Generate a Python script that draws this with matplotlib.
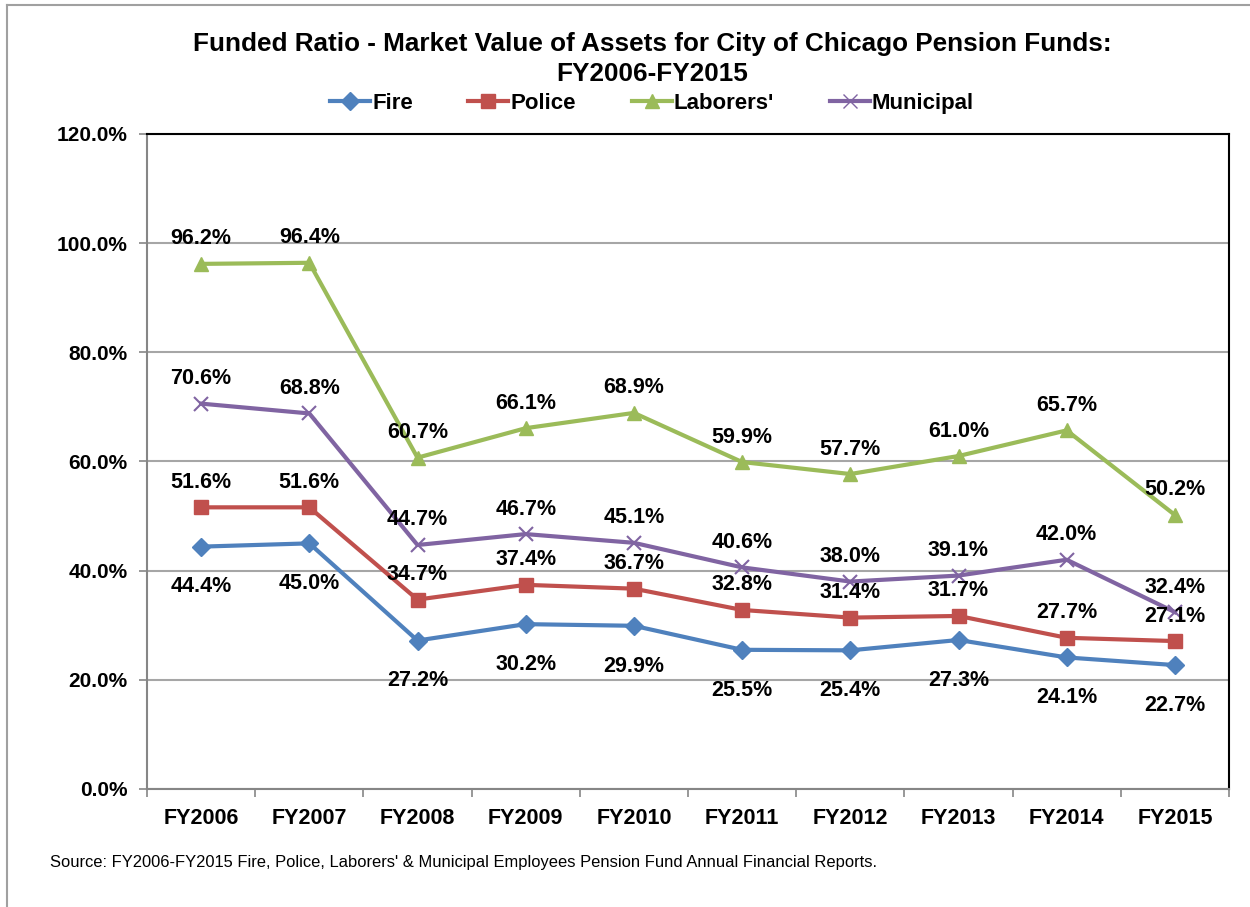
import numpy as np
import matplotlib
matplotlib.use('Agg')
import matplotlib.pyplot as plt
from matplotlib.lines import Line2D

plt.rcParams['font.family'] = ['Liberation Sans', 'DejaVu Sans']

years = ['FY2006', 'FY2007', 'FY2008', 'FY2009', 'FY2010',
         'FY2011', 'FY2012', 'FY2013', 'FY2014', 'FY2015']
fire = [44.4, 45.0, 27.2, 30.2, 29.9, 25.5, 25.4, 27.3, 24.1, 22.7]
police = [51.6, 51.6, 34.7, 37.4, 36.7, 32.8, 31.4, 31.7, 27.7, 27.1]
laborers = [96.2, 96.4, 60.7, 66.1, 68.9, 59.9, 57.7, 61.0, 65.7, 50.2]
municipal = [70.6, 68.8, 44.7, 46.7, 45.1, 40.6, 38.0, 39.1, 42.0, 32.4]
yticks = [0, 20, 40, 60, 80, 100, 120]

series = [
    ('Fire', fire, '#4F81BD', 'D', 9, 'below'),
    ('Police', police, '#C0504D', 's', 10, 'above'),
    ("Laborers'", laborers, '#9BBB59', '^', 10, 'above'),
    ('Municipal', municipal, '#8064A2', 'x', 10, 'above'),
]

fig = plt.figure(figsize=(12.5, 9.07), dpi=100)
ax = fig.add_axes([0.1176, 0.1301, 0.8656, 0.7222])

x = np.arange(len(years))
handles = []
for name, vals, col, mk, ms, pos in series:
    ax.plot(x, vals, color=col, lw=3, marker=mk, ms=ms, mew=1.5 if mk == 'x' else 1,
            mec=col, mfc=col, zorder=3)
    handles.append(Line2D([], [], color=col, lw=3, marker=mk, ms=ms, mec=col, mfc=col))
    for xi, v in zip(x, vals):
        dy = -29 if pos == 'below' else 18
        ax.annotate('%.1f%%' % v, (xi, v), xytext=(0, dy), textcoords='offset points',
                    ha='center', va='center', fontsize=15.5, fontweight='bold', zorder=4)

ax.set_xlim(-0.5, len(years) - 0.5)
ax.set_ylim(0, 120)
ax.set_yticks(yticks)
ax.set_yticklabels(['%.1f%%' % t for t in yticks], fontsize=15, fontweight='bold')
ax.set_xticks(x)
ax.set_xticklabels(years, fontsize=15.5, fontweight='bold')
ax.set_xticks(np.arange(-0.5, len(years)), minor=True)
ax.tick_params(axis='x', which='major', length=0, pad=14)
ax.tick_params(axis='x', which='minor', length=6, color='#868686', width=1.2)
ax.tick_params(axis='y', length=6, color='#868686', width=1.2, pad=8)

ax.grid(axis='y', color='#A6A6A6', lw=1.5)
ax.set_axisbelow(True)
for s in ['left', 'bottom']:
    ax.spines[s].set_color('#868686')
    ax.spines[s].set_linewidth(1.5)
for s in ['top', 'right']:
    ax.spines[s].set_color('black')
    ax.spines[s].set_linewidth(1.5)

fig.text(0.5216, 0.951, 'Funded Ratio - Market Value of Assets for City of Chicago Pension Funds:',
         ha='center', va='center', fontsize=18.8, fontweight='bold')
fig.text(0.5216, 0.918, 'FY2006-FY2015', ha='center', va='center', fontsize=18.8, fontweight='bold')

fig.legend(handles, [s[0] for s in series], loc='center', bbox_to_anchor=(0.5216, 0.886),
           ncol=4, frameon=False, prop={'size': 16, 'weight': 'bold'},
           handlelength=1.8, handletextpad=0.1, columnspacing=2.5)

fig.text(0.04, 0.049, "Source: FY2006-FY2015 Fire, Police, Laborers' & Municipal Employees Pension Fund Annual Financial Reports.",
         ha='left', va='center', fontsize=11.9)

# outer chart border
fig.add_artist(Line2D([7 / 1250, 7 / 1250], [0, 1 - 5 / 907], color='#A0A0A0', lw=1.5))
fig.add_artist(Line2D([7 / 1250, 1], [1 - 5 / 907, 1 - 5 / 907], color='#A0A0A0', lw=1.5))

fig.savefig('out.png', dpi=100)
